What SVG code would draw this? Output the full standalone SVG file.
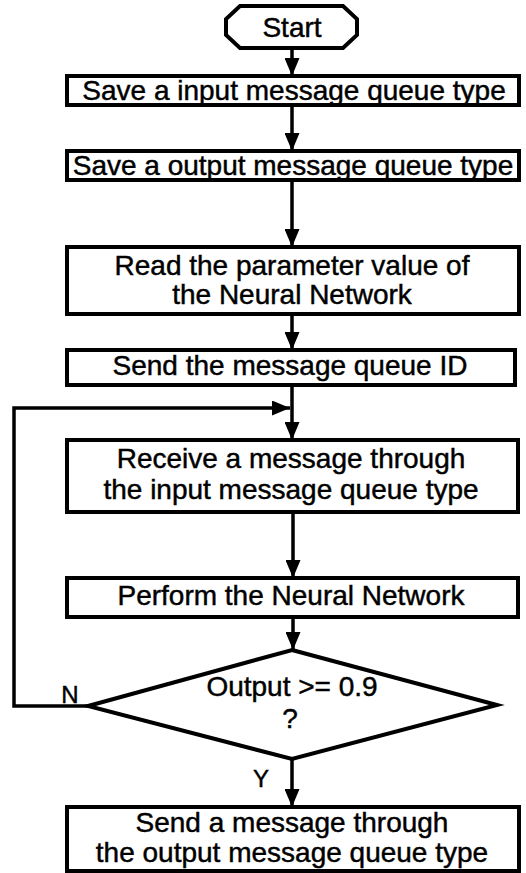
<svg xmlns="http://www.w3.org/2000/svg" width="526" height="873" viewBox="0 0 526 873">
  <style>
    .box { fill: #ffffff; stroke: #000000; stroke-width: 4; }
    .lbl { font-family: "Liberation Sans", Arial, sans-serif; font-size: 28px; fill: #000000; stroke: #000000; stroke-width: 0.45; text-anchor: middle; }
    .tag { font-family: "Liberation Sans", Arial, sans-serif; font-size: 24px; fill: #000000; stroke: #000000; stroke-width: 0.45; text-anchor: middle; }
    .wire { fill: none; stroke: #000000; stroke-width: 3.5; }
  </style>
  <defs>
    <marker id="head" viewBox="0 0 18 15" refX="18" refY="7.5" markerWidth="18" markerHeight="15" markerUnits="userSpaceOnUse" orient="auto">
      <path d="M0,0 L18,7.5 L0,15 Z" fill="#000000"/>
    </marker>
  </defs>
  <rect width="526" height="873" fill="#ffffff"/>

  <g id="connectors">
    <path class="wire" d="M292,48 V76" marker-end="url(#head)"/>
    <path class="wire" d="M292,105 V151" marker-end="url(#head)"/>
    <path class="wire" d="M292,180 V247" marker-end="url(#head)"/>
    <path class="wire" d="M292,314 V350" marker-end="url(#head)"/>
    <path class="wire" d="M292,385 V440" marker-end="url(#head)"/>
    <path class="wire" d="M88,706 H14 V408 H290" marker-end="url(#head)"/>
    <path class="wire" d="M293,512 V578" marker-end="url(#head)"/>
    <path class="wire" d="M293,617 V650" marker-end="url(#head)"/>
    <path class="wire" d="M292,759 V807" marker-end="url(#head)"/>
    <text class="tag" x="70" y="703">N</text>
    <text class="tag" x="261" y="787" font-size="26">Y</text>
  </g>

  <g id="start">
    <path class="box" d="M240,6 H343 L357,19 V35 L343,48 H240 L226,35 V19 Z" stroke-width="3.5"/>
    <text class="lbl" x="292" y="37">Start</text>
  </g>

  <g id="save-input">
    <rect class="box" x="67" y="76" width="452" height="29"/>
    <text class="lbl" x="294" y="100">Save a input message queue type</text>
  </g>

  <g id="save-output">
    <rect class="box" x="67" y="151" width="452" height="29"/>
    <text class="lbl" x="293" y="175">Save a output message queue type</text>
  </g>

  <g id="read-params">
    <rect class="box" x="67" y="247" width="452" height="67"/>
    <text class="lbl" x="292" y="275">Read the parameter value of</text>
    <text class="lbl" x="292" y="304">the Neural Network</text>
  </g>

  <g id="send-id">
    <rect class="box" x="67" y="350" width="448" height="35"/>
    <text class="lbl" x="290" y="375">Send the message queue ID</text>
  </g>

  <g id="receive">
    <rect class="box" x="67" y="440" width="451" height="72"/>
    <text class="lbl" x="291" y="468">Receive a message through</text>
    <text class="lbl" x="291" y="499">the input message queue type</text>
  </g>

  <g id="perform">
    <rect class="box" x="67" y="578" width="451" height="39"/>
    <text class="lbl" x="291" y="605">Perform the Neural Network</text>
  </g>

  <g id="decision">
    <path class="box" d="M292,650 L497,705 L292,759 L88,706 Z"/>
    <text class="lbl" x="292" y="696">Output &gt;= 0.9</text>
    <text class="lbl" x="290" y="728">?</text>
  </g>

  <g id="send-output">
    <rect class="box" x="67" y="807" width="452" height="64"/>
    <text class="lbl" x="292" y="832">Send a message through</text>
    <text class="lbl" x="292" y="862">the output message queue type</text>
  </g>
</svg>
